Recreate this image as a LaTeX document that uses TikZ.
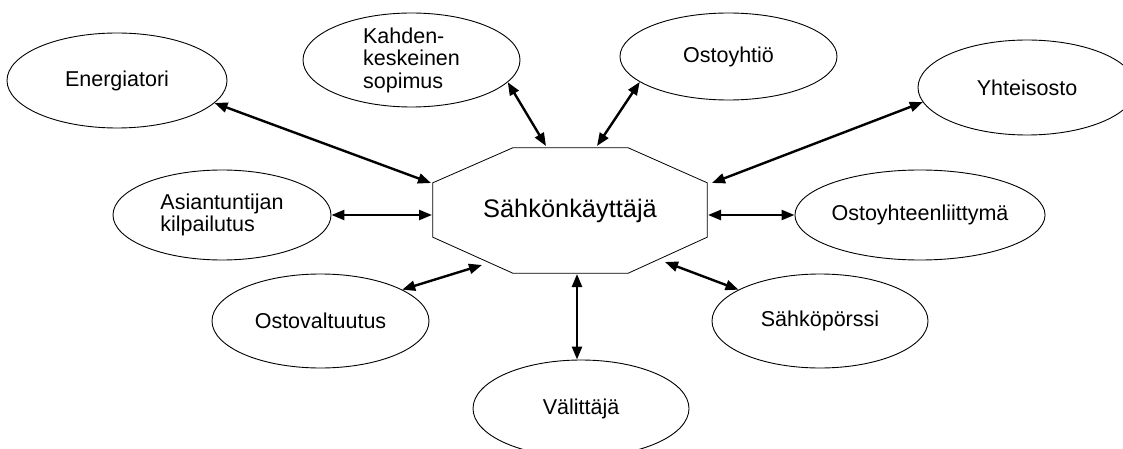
\documentclass[tikz,border=0pt]{standalone}
\usepackage{fontspec}
\setmainfont{Liberation Sans}
\usetikzlibrary{arrows.meta,shapes.geometric}

\begin{document}
\begin{tikzpicture}[x=1pt, y=-1pt,
      ell/.style={draw, ellipse, line width=0.9pt, inner sep=0pt,
                  minimum width=217pt, minimum height=94pt, align=left,
                  font=\fontsize{21.5}{22.5}\selectfont},
      oct/.style={draw, line width=0.8pt},
      arr/.style={{Triangle[length=13pt,width=10pt]}-{Triangle[length=13pt,width=10pt]},
                  line width=2.4pt}
    ]
      \useasboundingbox (0,0) rectangle (1123,449);
      % keskus
      \node[inner sep=0pt, minimum width=274pt, minimum height=125pt,
            font=\fontsize{25.4}{30}\selectfont] (user) at (570,210.5) {Sähkönkäyttäjä};
      \draw[oct] ([xshift=80pt]user.north west) -- ([xshift=-79pt]user.north east)
        -- ([yshift=-35pt]user.north east) -- ([yshift=36pt]user.south east)
        -- ([xshift=-79pt]user.south east) -- ([xshift=80pt]user.south west)
        -- ([yshift=36pt]user.south west) -- ([yshift=-35pt]user.north west) -- cycle;
      % ympärillä
      \node[ell, minimum width=220pt, minimum height=95pt] (energ) at (117,80.5) {Energiatori};
      \node[ell] (kahden) at (411.5,60) {Kahden-\\keskeinen\\sopimus};
      \node[ell, minimum height=87pt] (ostoy) at (728.5,56.5) {Ostoyhtiö};
      \node[ell, minimum width=218pt, minimum height=95pt] (yhteis) at (1027,87.5) {Yhteisosto};
      \node[ell, minimum width=218pt, minimum height=90pt] (asiant) at (222,215) {Asiantuntijan\\kilpailutus};
      \node[ell, minimum width=216pt, minimum height=90pt] (liitt) at (920,215) {Ostoyhteenliittymä};
      \node[ell] (valtuut) at (320.5,321) {Ostovaltuutus};
      \node[ell, minimum width=216pt] (porssi) at (820,321) {Sähköpörssi};
      \node[ell, minimum width=216pt, minimum height=97pt] (valitt) at (581,408.5) {Välittäjä};
      % nuolten päät kahdeksankulmiossa
      \coordinate (tEner) at (431,183);
      \coordinate (tKahd) at (546,146);
      \coordinate (tOsto) at (597,146);
      \coordinate (tYhte) at (712,183);
      \coordinate (tAsia) at (432,215);
      \coordinate (tLiit) at (708,215);
      \coordinate (tValt) at (482,265);
      \coordinate (tPors) at (665,262);
      \coordinate (tVali) at (577,274);
      % nuolet
      \draw[arr] (energ.-13) -- (tEner);
      \draw[arr] (kahden.-13) -- (tKahd);
      \draw[arr] (ostoy.-164) -- (tOsto);
      \draw[arr] (yhteis.-172) -- (tYhte);
      \draw[arr] (asiant.east) -- (tAsia);
      \draw[arr] (liitt.west) -- (tLiit);
      \draw[arr] (valtuut.21) -- (tValt);
      \draw[arr] (porssi.159) -- (tPors);
      \draw[arr] (tVali) -- (tVali |- valitt.north);
    \end{tikzpicture}
\end{document}
